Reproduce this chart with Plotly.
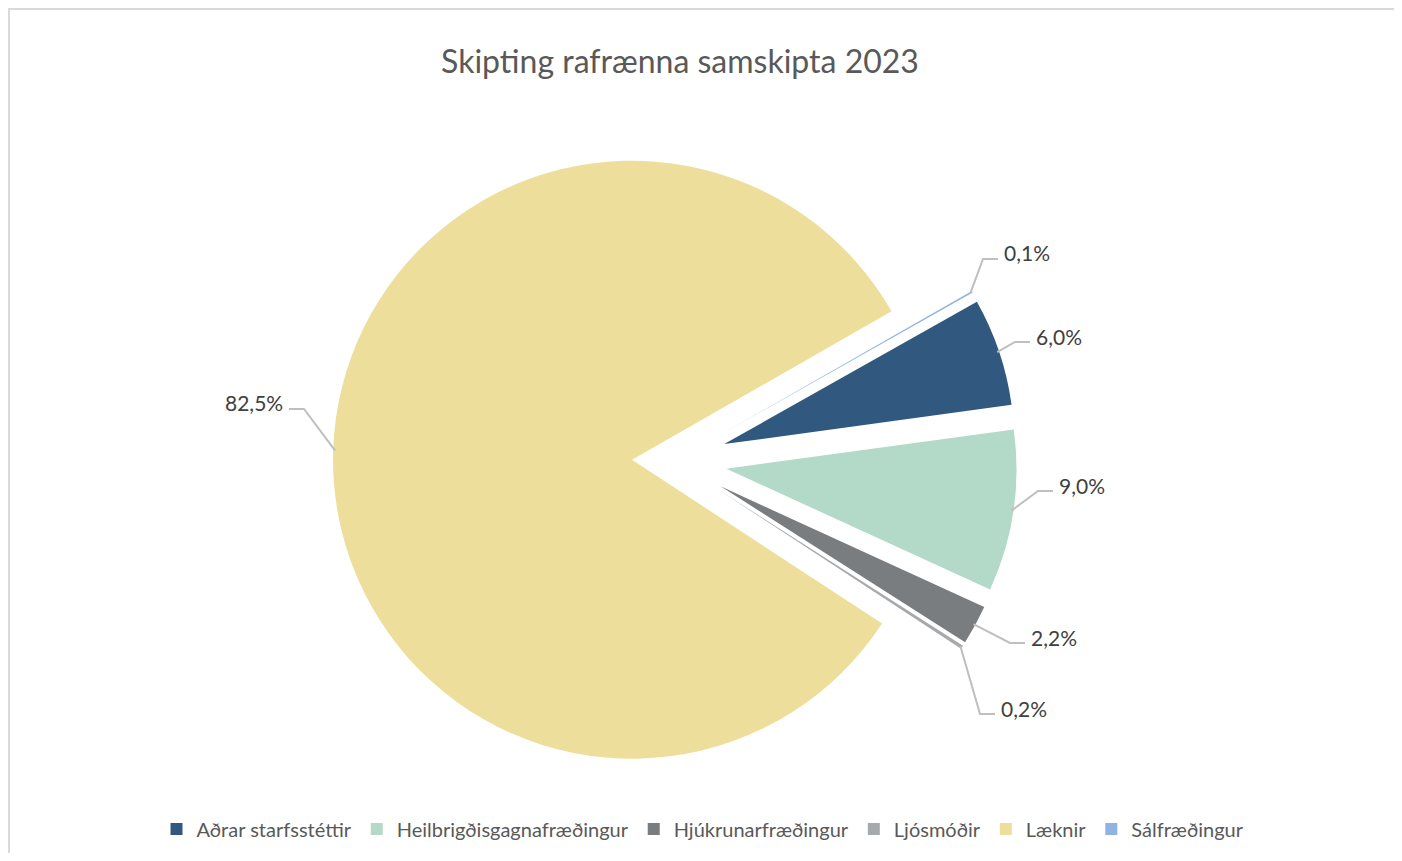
import math
import plotly.graph_objects as go

# ---- data ----
categories = ["Aðrar starfsstéttir", "Heilbrigðisgagnafræðingur", "Hjúkrunarfræðingur",
              "Ljósmóðir", "Læknir", "Sálfræðingur"]
shares = [6.0, 9.0, 2.2, 0.2, 82.5, 0.1]
title_text = "Skipting rafrænna samskipta 2023"

# ---- styles / layout ----
colors = ["#31587e", "#b3d9c8", "#797d7f", "#a7aaad", "#eddf9b", "#8fb4e3"]
BIG = "Læknir"
ROTATION = 60.6
OFF = 8                      # page body margin
FW, FH = 1402 - 2 * OFF, 861 - 2 * OFF
PIE_CX, PIE_CY = 674, 461    # screen pixels
R_BIG, PULL_BIG_PX = 299, 42
R_SMALL, PULL_SMALL_PX = 290, 53
FONT = "Lato"
label_anchor = [(1030, 342), (1053, 491), (1025, 643), (995, 714), (289, 409), (998, 259)]
label_side = ["right", "right", "right", "right", "left", "right"]
ELBOW = 15
CLEAR = "rgba(0,0,0,0)"


def px2paper(x, y):
    return (x - OFF) / FW, 1 - (y - OFF) / FH


def domain_for(r, maxpull):
    box = 2 * r * (1 + maxpull)
    x0, y1 = px2paper(PIE_CX - box / 2, PIE_CY - box / 2)
    x1, y0 = px2paper(PIE_CX + box / 2, PIE_CY + box / 2)
    return dict(x=[x0, x1], y=[y0, y1])


is_big = [c == BIG for c in categories]
pull_big = [PULL_BIG_PX / R_BIG if b else 0 for b in is_big]
pull_small = [0 if b else PULL_SMALL_PX / R_SMALL for b in is_big]

common = dict(labels=categories, values=shares, sort=False, direction="clockwise",
              rotation=ROTATION, textinfo="none")

fig = go.Figure()
# legend carrier (tiny, invisible pie) so the legend shows every colour
fig.add_trace(go.Pie(**common, marker=dict(colors=colors, line=dict(width=0)),
                     domain=dict(x=[0, 0.00001], y=[0, 0.00001]), showlegend=True,
                     hoverinfo="skip"))
# large slice
fig.add_trace(go.Pie(**common, pull=pull_big, showlegend=False, hoverinfo="label+percent",
                     marker=dict(colors=[c if b else CLEAR for c, b in zip(colors, is_big)],
                                 line=dict(width=0)),
                     domain=domain_for(R_BIG, max(pull_big))))
# small, exploded slices
fig.add_trace(go.Pie(**common, pull=pull_small, showlegend=False, hoverinfo="label+percent",
                     marker=dict(colors=[CLEAR if b else c for c, b in zip(colors, is_big)],
                                 line=dict(width=0)),
                     domain=domain_for(R_SMALL, max(pull_small))))

total = sum(shares)
cum = 0.0
shapes = []
annotations = []
for i, v in enumerate(shares):
    a0 = ROTATION + cum / total * 360
    cum += v
    a1 = ROTATION + cum / total * 360
    mid = math.radians((a0 + a1) / 2)
    dx, dy = math.sin(mid), -math.cos(mid)
    rr = (R_BIG + PULL_BIG_PX if is_big[i] else R_SMALL + PULL_SMALL_PX) - 2
    sx, sy = PIE_CX + rr * dx, PIE_CY + rr * dy
    lx, ly = label_anchor[i]
    sign = 1 if label_side[i] == "right" else -1
    ex, ey = lx - sign * ELBOW, ly
    p = [px2paper(sx, sy), px2paper(ex, ey), px2paper(lx, ly)]
    shapes.append(dict(type="path", xref="paper", yref="paper",
                       path=f"M{p[0][0]},{p[0][1]} L{p[1][0]},{p[1][1]} L{p[2][0]},{p[2][1]}",
                       line=dict(color="#bfbfbf", width=2)))
    tx, ty = px2paper(lx + sign * 4, ly - 6)
    annotations.append(dict(
        x=tx, y=ty, xref="paper", yref="paper", showarrow=False,
        text=f"{v:.1f}".replace(".", ",") + "%",
        xanchor="left" if sign > 0 else "right", yanchor="middle",
        font=dict(family=FONT, size=21, color="#404040")))

# chart border
bx0, by1 = px2paper(OFF + 1, OFF + 1)
bx1, _ = px2paper(1395, 0)
shapes.append(dict(type="rect", xref="paper", yref="paper",
                   x0=bx0, x1=bx1, y0=-0.02, y1=by1,
                   line=dict(color="#d9d9d9", width=2)))

tx_, ty_ = px2paper(680, 62)
lx_, ly_ = px2paper(703, 829)
fig.update_layout(
    width=FW, height=FH,
    margin=dict(l=0, r=0, t=0, b=0),
    paper_bgcolor="white", plot_bgcolor="white",
    title=dict(text=title_text, x=tx_, xanchor="center", y=ty_, yanchor="middle",
               xref="paper", yref="container",
               font=dict(family=FONT, size=32, color="#595959")),
    showlegend=True,
    legend=dict(orientation="h", x=lx_, xanchor="center", y=ly_, yanchor="middle",
                font=dict(family=FONT, size=20, color="#595959"), traceorder="normal"),
    shapes=shapes, annotations=annotations,
)

fig.write_html("out.html")
